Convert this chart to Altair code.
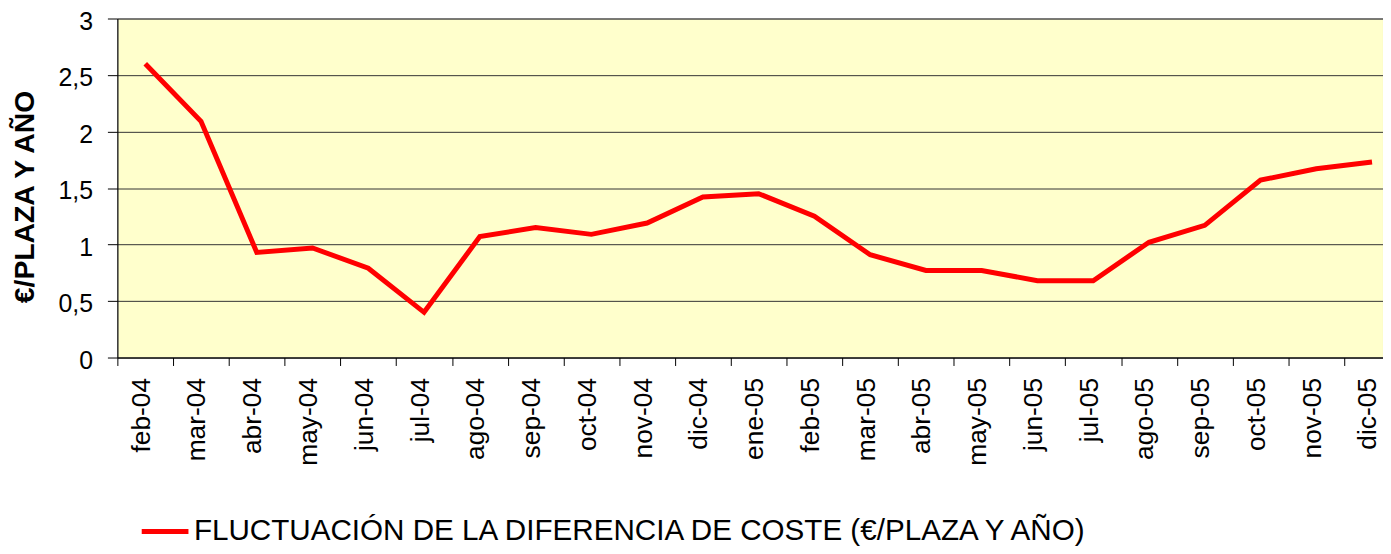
import altair as alt
import pandas as pd

months = ["feb-04", "mar-04", "abr-04", "may-04", "jun-04", "jul-04", "ago-04",
          "sep-04", "oct-04", "nov-04", "dic-04", "ene-05", "feb-05", "mar-05",
          "abr-05", "may-05", "jun-05", "jul-05", "ago-05", "sep-05", "oct-05",
          "nov-05", "dic-05"]
values = [2.6, 2.09, 0.93, 0.97, 0.79, 0.40, 1.07, 1.15, 1.09, 1.19, 1.42, 1.45,
          1.25, 0.91, 0.77, 0.77, 0.68, 0.68, 1.02, 1.17, 1.57, 1.67, 1.73]
series_name = "FLUCTUACIÓN DE LA DIFERENCIA DE COSTE (€/PLAZA Y AÑO)"
y_ticks = [0, 0.5, 1, 1.5, 2, 2.5, 3]

df = pd.DataFrame({"mes": months, "valor": values, "serie": [series_name] * len(months)})

FONT = "Liberation Sans"

chart = alt.Chart(df).mark_line(strokeWidth=5).encode(
    x=alt.X(
        "mes:N", sort=months, bandPosition=0.5,
        scale=alt.Scale(type="band", paddingInner=0, paddingOuter=0, range=[0, 1290]),
        axis=alt.Axis(
            title=None, labelAngle=270, labelAlign="right", labelBaseline="middle",
            labelFont=FONT, labelFontSize=26.5, labelColor="black", labelPadding=12,
            labelOffset=-4,
            tickBand="extent", tickSize=8, tickColor="black", domainColor="black",
            grid=False,
        ),
    ),
    y=alt.Y(
        "valor:Q", scale=alt.Scale(domain=[0, 3], nice=False),
        axis=alt.Axis(
            title="€/PLAZA Y AÑO", values=y_ticks,
            labelExpr="replace(toString(datum.value), '.', ',')",
            labelFont=FONT, labelFontSize=25, labelColor="black", labelPadding=15,
            labelOffset=3,
            tickSize=10, tickColor="black", domainColor="black",
            grid=True, gridColor="#333333", gridWidth=1,
            titleFont=FONT, titleFontSize=28.5, titleFontWeight="bold", titleColor="black",
            titleAngle=270, titleX=-93, titleY=179, titleAlign="center",
            titleBaseline="middle",
        ),
    ),
    color=alt.Color(
        "serie:N", scale=alt.Scale(range=["#FF0000"]),
        legend=alt.Legend(
            title=None, orient="none", legendX=22, legendY=490, padding=0,
            symbolType="stroke", symbolSize=2209, symbolStrokeWidth=5,
            labelFont=FONT, labelFontSize=29.8, labelColor="black", labelOffset=3,
            labelLimit=1300,
        ),
    ),
).properties(
    width=1273, height=341, autosize="none",
    padding={"left": 110, "top": 9, "right": 0, "bottom": 188},
).configure_view(fill="#FFFFCC", stroke="#808080", strokeWidth=1)

chart.save("out.html", embed_options={"renderer": "svg", "actions": False})
